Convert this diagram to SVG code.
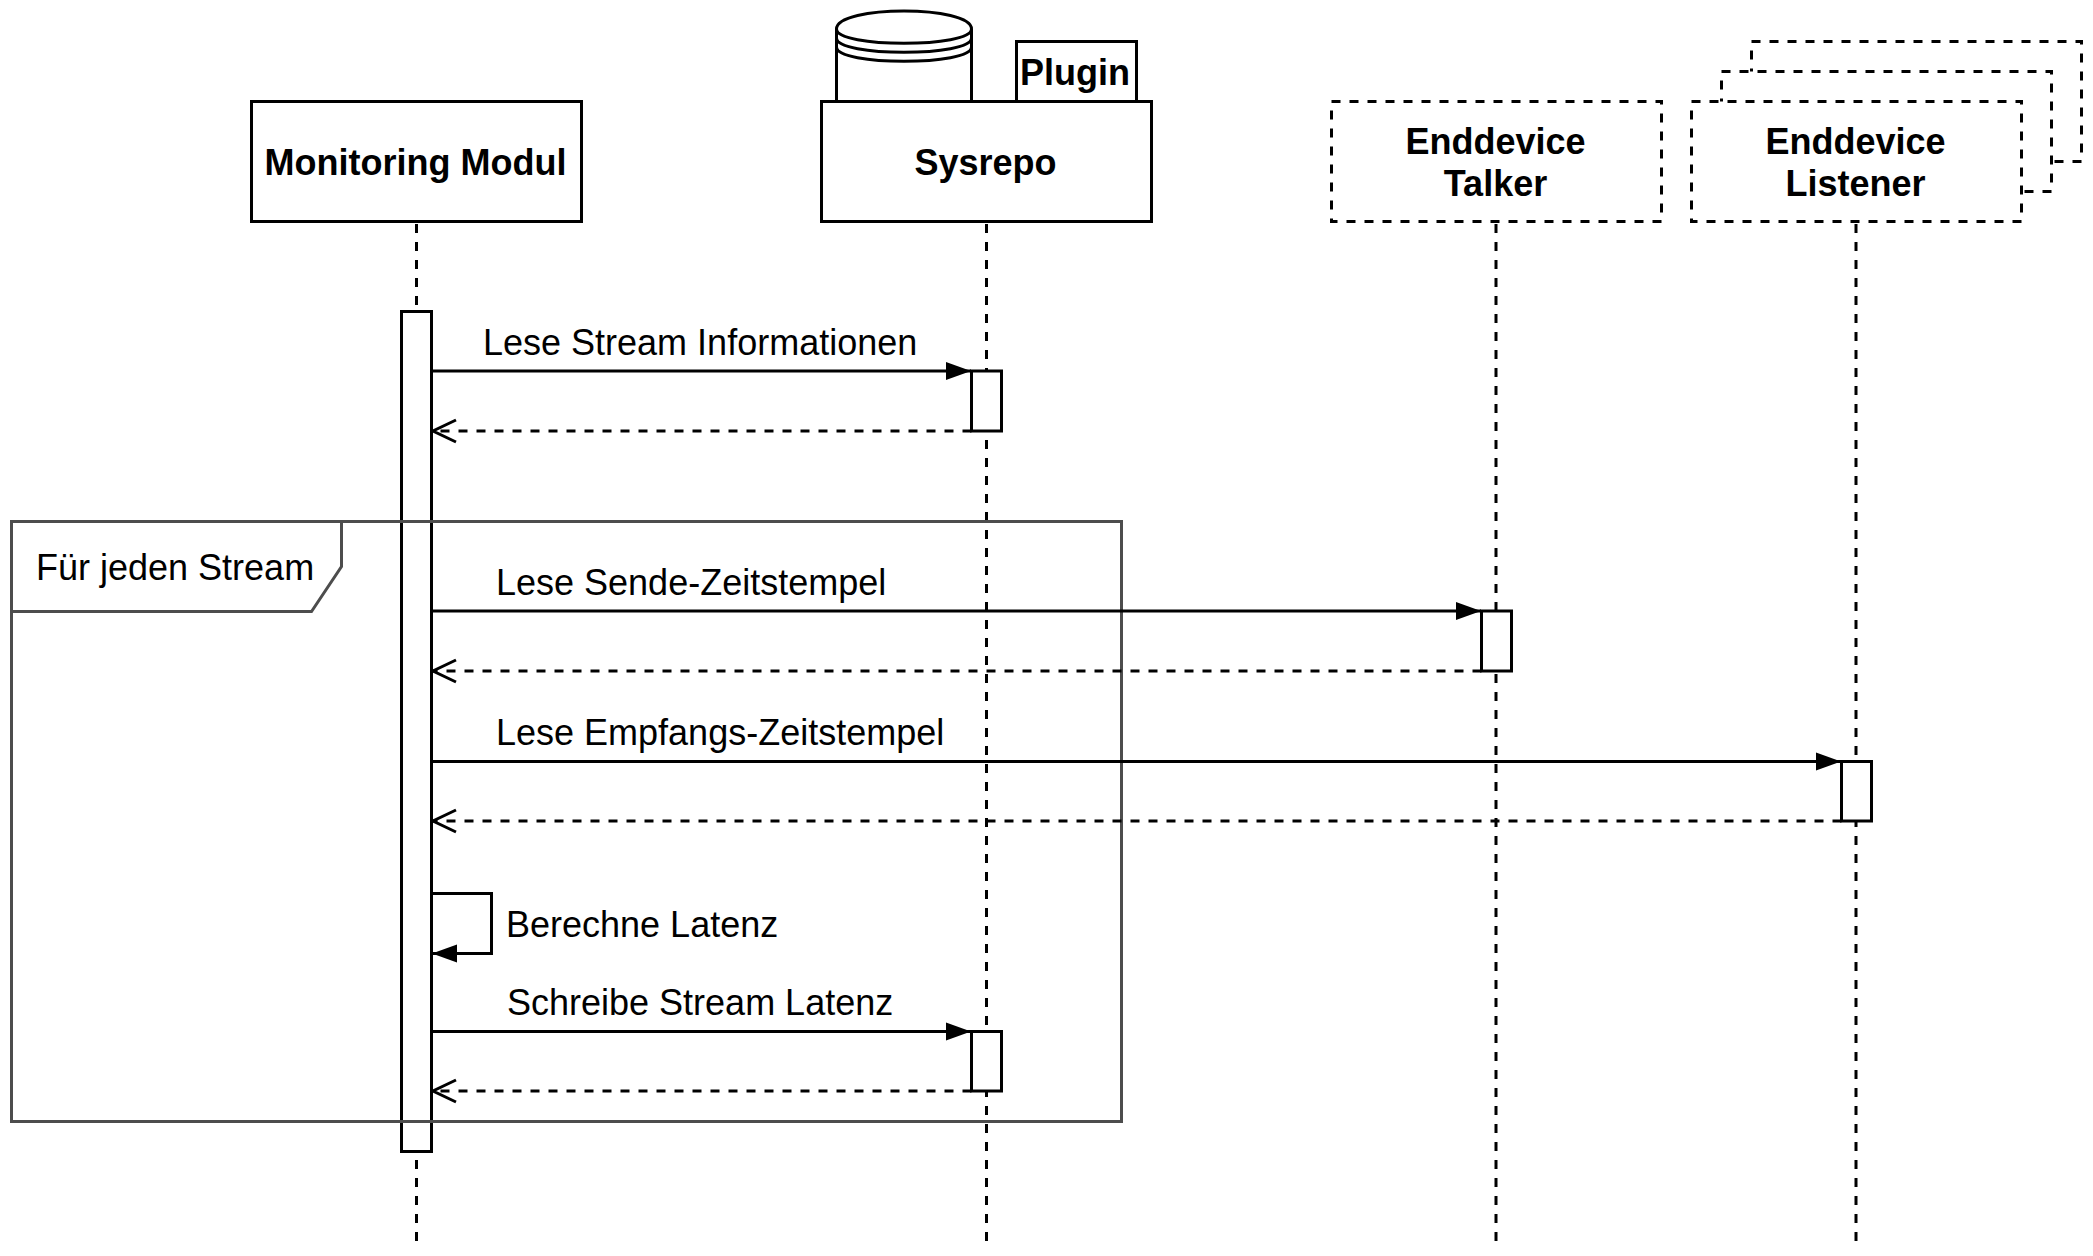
<svg xmlns="http://www.w3.org/2000/svg" width="2093" height="1256" viewBox="0 0 2093 1256">
<style>
text{font-family:"Liberation Sans",Arial,Helvetica,sans-serif;fill:#000}
.l{font-size:36px}
.b{font-size:36px;font-weight:bold;text-anchor:middle}
.box{fill:#fff;stroke:#000;stroke-width:3}
.dbox{fill:#fff;stroke:#000;stroke-width:3;stroke-dasharray:9 9}
.life{fill:none;stroke:#000;stroke-width:3;stroke-dasharray:9 9}
.msg{fill:none;stroke:#000;stroke-width:3}
.ret{fill:none;stroke:#000;stroke-width:3;stroke-dasharray:9 9}
.frame{fill:none;stroke:#4d4d4d;stroke-width:3}
</style>
<defs>
<marker id="solid" markerUnits="userSpaceOnUse" markerWidth="26" markerHeight="20" refX="25" refY="9" orient="auto" viewBox="0 0 26 18"><path d="M0 0L25 9L0 18Z" fill="#000"/></marker>
<marker id="open" markerUnits="userSpaceOnUse" markerWidth="28" markerHeight="28" refX="25" refY="13" orient="auto" viewBox="0 0 28 26"><path d="M2 2L25 13L2 24" fill="none" stroke="#000" stroke-width="3"/></marker>
</defs>
<g id="lifelines">
<path class="life" d="M416.500 224V1241M986.500 224V1241M1496 224V1241M1856 224V1241"/>
</g>
<g id="monitoring-modul">
<rect class="box" x="251.500" y="101.500" width="330" height="120"/>
<text class="b" x="415.500" y="175">Monitoring Modul</text>
<rect class="box" x="401.500" y="311.500" width="30" height="840"/>
</g>
<g id="sysrepo">
<path class="box" d="M836.500 101V29C836.500 5 971.500 5 971.500 29V101"/>
<path d="M836.500 29C836.500 48 971.500 48 971.500 29M836.500 38C836.500 57 971.500 57 971.500 38M836.500 47C836.500 66 971.500 66 971.500 47" fill="none" stroke="#000" stroke-width="3"/>
<rect class="box" x="1016.500" y="41.500" width="120" height="60"/>
<text class="b" x="1075" y="85">Plugin</text>
<rect class="box" x="821.500" y="101.500" width="330" height="120"/>
<text class="b" x="985.500" y="175">Sysrepo</text>
<rect class="box" x="971.500" y="371" width="30" height="60"/>
<rect class="box" x="971.500" y="1031.500" width="30" height="59.500"/>
</g>
<g id="enddevice-talker">
<rect class="dbox" x="1331.500" y="101.500" width="330" height="120"/>
<text class="b" x="1495.500" y="154">Enddevice</text>
<text class="b" x="1495.500" y="196">Talker</text>
<rect class="box" x="1481.500" y="611" width="30" height="60"/>
</g>
<g id="enddevice-listener">
<rect class="dbox" x="1751.500" y="41.500" width="330" height="120"/>
<rect class="dbox" x="1721.500" y="71.500" width="330" height="120"/>
<rect class="dbox" x="1691.500" y="101.500" width="330" height="120"/>
<text class="b" x="1855.500" y="154">Enddevice</text>
<text class="b" x="1855.500" y="196">Listener</text>
<rect class="box" x="1841.500" y="761.500" width="30" height="59.500"/>
</g>
<g id="frame">
<rect class="frame" x="11.500" y="521.500" width="1110" height="600"/>
<path d="M11.500 521.500H341.500V566.500L311.500 611.500H11.500Z" fill="#fff" stroke="#4d4d4d" stroke-width="3"/>
<text class="l" x="36" y="580">Für jeden Stream</text>
</g>
<g id="connectors">
<path class="msg" marker-end="url(#solid)" d="M431.500 371H971"/>
<path class="ret" marker-end="url(#open)" d="M971.500 431H433"/>
<path class="msg" marker-end="url(#solid)" d="M431.500 611H1481"/>
<path class="ret" marker-end="url(#open)" d="M1481.500 671H433"/>
<path class="msg" marker-end="url(#solid)" d="M431.500 761.500H1841"/>
<path class="ret" marker-end="url(#open)" d="M1841.500 821H433"/>
<path class="msg" marker-end="url(#solid)" d="M431.500 893.500H491.500V953.500H432"/>
<path class="msg" marker-end="url(#solid)" d="M431.500 1031.500H971"/>
<path class="ret" marker-end="url(#open)" d="M971.500 1091H433"/>
</g>
<g id="labels">
<text class="l" x="483" y="355">Lese Stream Informationen</text>
<text class="l" x="496" y="595">Lese Sende-Zeitstempel</text>
<text class="l" x="496" y="745">Lese Empfangs-Zeitstempel</text>
<text class="l" x="506" y="937">Berechne Latenz</text>
<text class="l" x="507" y="1015">Schreibe Stream Latenz</text>
</g>
</svg>
